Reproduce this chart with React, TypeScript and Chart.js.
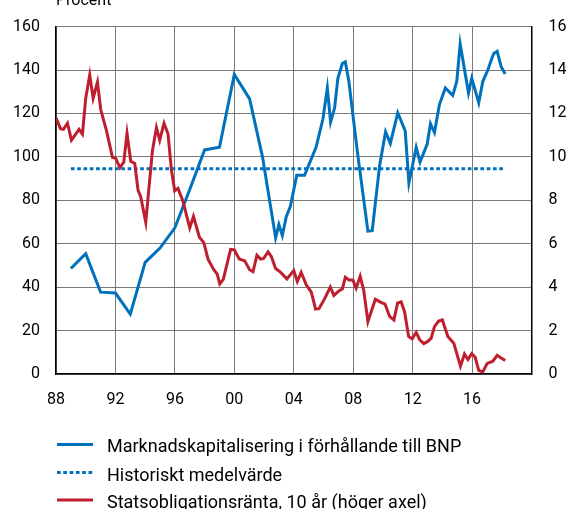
import React, { useEffect, useRef } from 'react';
import { Chart, registerables } from 'chart.js';

Chart.register(...registerables);

// ---- Data ----
const xTickLabels = ['88', '92', '96', '00', '04', '08', '12', '16', ''];
const axisTitle = 'Procent';

const marketCapYears = [
  1989.0, 1990.0, 1991.0, 1992.0, 1993.0, 1994.0, 1995.0, 1996.0, 1997.0, 1998.0, 1999.0,
  2000.0, 2001.03, 2001.9, 2002.78, 2003.0, 2003.23, 2003.5, 2003.77, 2004.2, 2004.73,
  2005.5, 2005.96, 2006.26, 2006.48, 2006.75, 2006.97, 2007.27, 2007.47, 2007.71, 2008.3,
  2008.99, 2009.28, 2009.78, 2010.18, 2010.5, 2011.0, 2011.5, 2011.75, 2012.24, 2012.5,
  2012.98, 2013.2, 2013.47, 2013.8, 2014.2, 2014.7, 2014.97, 2015.2, 2015.76, 2015.98,
  2016.45, 2016.72, 2017.06, 2017.33, 2017.46, 2017.69, 2017.96, 2018.23,
];
const marketCapValues = [
  48.6, 55.4, 37.7, 37.3, 27.6, 51.4, 58, 67.3, 85, 103.2, 104.4,
  138, 126.7, 99.9, 62.7, 68.8, 63.8, 72.6, 77.1, 91.5, 91.5,
  104.4, 117.3, 131.7, 116, 122.6, 136.2, 143, 143.8, 134.7, 101.4,
  65.8, 66, 96, 111.5, 106.2, 120.3, 112, 88, 104.4, 97.6,
  105.9, 115.3, 111.2, 124, 131.7, 128.3, 134.7, 152, 129.4, 136.2,
  124.9, 134.7, 140, 145.3, 147.6, 148.6, 141.5, 138.2,
];

const meanYears = [1989.0, 2018.1];
const meanValues = [94.5, 94.5];

const yieldYears = [
  1988.0, 1988.3, 1988.5, 1988.77, 1989.04, 1989.55, 1989.78, 1990.0, 1990.27, 1990.5,
  1990.79, 1991.01, 1991.4, 1991.8, 1992.02, 1992.3, 1992.56, 1992.78, 1993.03, 1993.3,
  1993.52, 1993.7, 1994.04, 1994.49, 1994.76, 1994.98, 1995.27, 1995.54, 1995.77, 1995.99,
  1996.21, 1996.55, 1997.0, 1997.25, 1997.65, 1997.95, 1998.23, 1998.62, 1998.85, 1999.02,
  1999.26, 1999.75, 2000.0, 2000.33, 2000.7, 2001.03, 2001.26, 2001.52, 2001.77, 2001.97,
  2002.27, 2002.49, 2002.78, 2003.12, 2003.54, 2004.0, 2004.24, 2004.5, 2004.85, 2005.18,
  2005.47, 2005.7, 2006.08, 2006.46, 2006.7, 2007.08, 2007.27, 2007.47, 2007.71, 2007.98,
  2008.2, 2008.47, 2008.71, 2008.99, 2009.49, 2009.8, 2010.14, 2010.45, 2010.74, 2010.99,
  2011.23, 2011.46, 2011.73, 2011.97, 2012.24, 2012.47, 2012.75, 2013.02, 2013.25, 2013.47,
  2013.75, 2014.0, 2014.37, 2014.77, 2015.22, 2015.49, 2015.72, 2015.98, 2016.21, 2016.45,
  2016.72, 2017.02, 2017.4, 2017.69, 2017.96, 2018.23,
];
const yieldValues = [
  11.8, 11.3, 11.27, 11.55, 10.77, 11.27, 11.05, 12.7, 13.77, 12.7,
  13.44, 12.18, 11.2, 9.98, 9.94, 9.5, 9.76, 11.08, 9.8, 9.7,
  8.47, 8.17, 6.99, 10.29, 11.35, 10.77, 11.55, 11.05, 9.38, 8.44,
  8.55, 7.95, 6.73, 7.26, 6.3, 6.05, 5.29, 4.8, 4.6, 4.15,
  4.36, 5.74, 5.72, 5.3, 5.21, 4.8, 4.71, 5.47, 5.29, 5.32,
  5.62, 5.41, 4.86, 4.68, 4.38, 4.76, 4.26, 4.68, 4.1, 3.77,
  2.99, 3.01, 3.47, 4.0, 3.62, 3.85, 3.92, 4.45, 4.33, 4.33,
  3.95, 4.5, 3.85, 2.41, 3.44, 3.32, 3.22, 2.65, 2.49, 3.27,
  3.32, 2.86, 1.73, 1.62, 1.92, 1.58, 1.4, 1.5, 1.65, 2.18,
  2.44, 2.49, 1.73, 1.42, 0.36, 0.92, 0.67, 0.94, 0.77, 0.17,
  0.1, 0.49, 0.59, 0.86, 0.74, 0.62,
];

const seriesLabels = [
  'Marknadskapitalisering i förhållande till BNP',
  'Historiskt medelvärde',
  'Statsobligationsränta, 10 år (höger axel)',
];

// ---- Styles ----
const BLUE = '#0071bc';
const RED = '#be1e2d';
const GRID = '#7a7a7a';
const FONT = 'Roboto';

const toPoints = (xs: number[], ys: number[]) => xs.map((x, i) => ({ x, y: ys[i] }));

const overlayPlugin = {
  id: 'overlay',
  afterDraw(chart: any) {
    const ctx = chart.ctx as CanvasRenderingContext2D;
    ctx.save();
    ctx.fillStyle = '#000';
    ctx.textBaseline = 'alphabetic';
    ctx.textAlign = 'left';
    ctx.font = `16px ${FONT}`;
    ctx.fillText(axisTitle, 56, 4.5);

    // legend
    const ds = chart.data.datasets;
    const legendOrder = [1, 2, 0]; // dataset indices: blue, mean, red
    const sampleY = [444.5, 472.5, 500];
    const baseY = [451.5, 480.5, 507.5];
    ctx.font = `18px ${FONT}`;
    legendOrder.forEach((dsIndex, row) => {
      const d = ds[dsIndex];
      ctx.save();
      ctx.strokeStyle = d.borderColor;
      ctx.lineWidth = 3;
      ctx.lineCap = 'butt';
      ctx.setLineDash(d.borderDash || []);
      ctx.beginPath();
      ctx.moveTo(57, sampleY[row]);
      ctx.lineTo(93, sampleY[row]);
      ctx.stroke();
      ctx.restore();
      ctx.fillText(d.label, 107, baseY[row]);
    });
    ctx.restore();
  },
};

export default function App() {
  const canvasRef = useRef<HTMLCanvasElement | null>(null);

  useEffect(() => {
    document.body.style.margin = '0';
    const canvas = canvasRef.current;
    if (!canvas) return;
    const chart = new Chart(canvas, {
      type: 'line',
      data: {
        datasets: [
          {
            label: seriesLabels[2],
            data: toPoints(yieldYears, yieldValues),
            yAxisID: 'y1',
            borderColor: RED,
            borderWidth: 3,
            pointRadius: 0,
            tension: 0,
            order: 0,
          },
          {
            label: seriesLabels[0],
            data: toPoints(marketCapYears, marketCapValues),
            yAxisID: 'y',
            borderColor: BLUE,
            borderWidth: 3,
            pointRadius: 0,
            tension: 0,
            order: 1,
          },
          {
            label: seriesLabels[1],
            data: toPoints(meanYears, meanValues),
            yAxisID: 'y',
            borderColor: BLUE,
            borderWidth: 3,
            borderDash: [3.7, 2.6],
            pointRadius: 0,
            tension: 0,
            order: 2,
          },
        ] as any,
      },
      options: {
        animation: false,
        responsive: false,
        devicePixelRatio: 1,
        layout: { padding: { top: 21, bottom: 95, left: 0, right: 0 } },
        plugins: {
          legend: { display: false },
          tooltip: { enabled: false },
        },
        scales: {
          x: {
            type: 'linear',
            min: 1988,
            max: 2020,
            ticks: {
              stepSize: 4,
              padding: 16,
              color: '#000',
              font: { family: FONT, size: 16 },
              maxRotation: 0,
              autoSkip: false,
              callback: (v: any) => {
                const idx = Math.round((Number(v) - 1988) / 4);
                return xTickLabels[idx] ?? '';
              },
            },
            grid: { color: GRID, lineWidth: 1, drawTicks: false },
            border: { color: '#000', width: 1.5 },
            afterFit: (s: any) => { s.height = 40; },
          },
          y: {
            position: 'left',
            min: 0,
            max: 160,
            ticks: {
              stepSize: 20,
              padding: 16,
              color: '#000',
              font: { family: FONT, size: 16 },
            },
            grid: { color: GRID, lineWidth: 1, drawTicks: false },
            border: { color: '#000', width: 1.5 },
            afterFit: (s: any) => { s.width = 56; },
          },
          y1: {
            position: 'right',
            min: 0,
            max: 16,
            ticks: {
              stepSize: 2,
              padding: 17,
              color: '#000',
              font: { family: FONT, size: 16 },
            },
            grid: { drawOnChartArea: false, drawTicks: false },
            border: { color: '#000', width: 1.5 },
            afterFit: (s: any) => { s.width = 37.5; },
          },
        },
      } as any,
      plugins: [overlayPlugin],
    });
    return () => chart.destroy();
  }, []);

  return (
    <canvas
      ref={canvasRef}
      width={569}
      height={509}
      style={{ display: 'block', width: 569, height: 509 }}
    />
  );
}
